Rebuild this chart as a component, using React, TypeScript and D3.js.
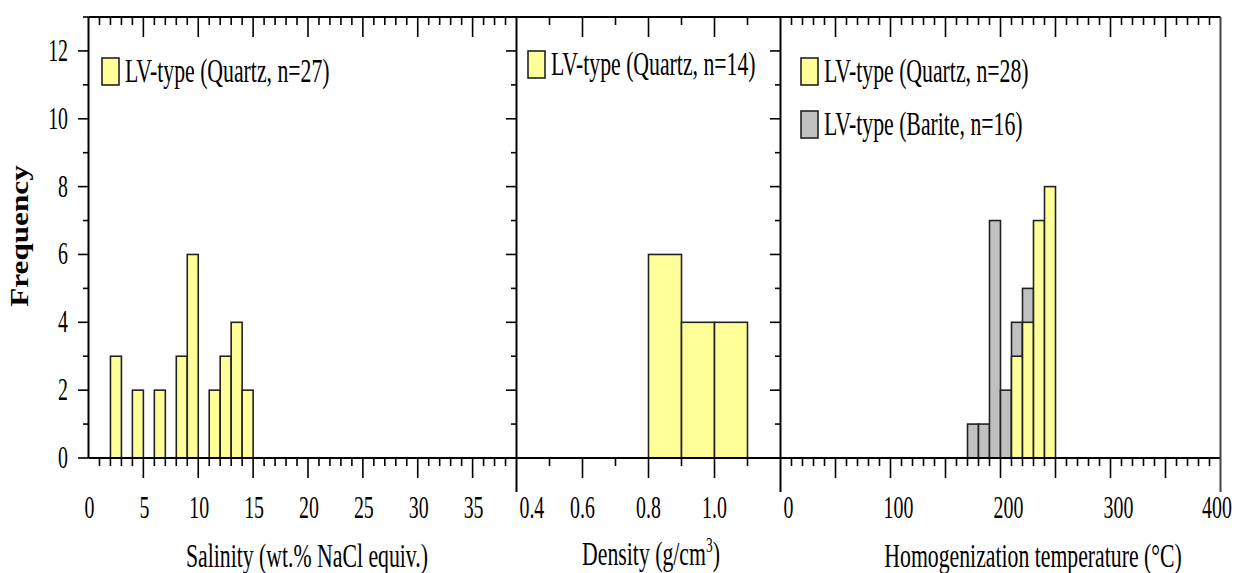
import React from "react";
import * as d3 from "d3";

// salinity histogram (bin start, wt.% NaCl equiv., width 1)
const salinityBins = [2, 4, 6, 8, 9, 11, 12, 13, 14];
const salinityCounts = [3, 2, 2, 3, 6, 2, 3, 4, 2];
// density histogram (bin start, g/cm3, width 0.1)
const densityBins = [0.8, 0.9, 1.0];
const densityCounts = [6, 4, 4];
// homogenization temperature (bin start, °C, width 10)
const thBariteBins = [170, 180, 190, 200, 210, 220];
const thBariteCounts = [1, 1, 7, 2, 4, 5];
const thQuartzBins = [210, 220, 230, 240];
const thQuartzCounts = [3, 4, 7, 8];

const yTicks = [0, 2, 4, 6, 8, 10, 12];
const salinityLabels = [0, 5, 10, 15, 20, 25, 30, 35];
const densityLabels = ["0.4", "0.6", "0.8", "1.0"];
const thLabels = [0, 100, 200, 300, 400];

const legendLeft = "LV-type (Quartz, n=27)";
const legendMid = "LV-type (Quartz, n=14)";
const legendQuartz = "LV-type (Quartz, n=28)";
const legendBarite = "LV-type (Barite, n=16)";

const YELLOW = "#ffff99";
const GREY = "#c0c0c0";
const FONT = "'Liberation Serif', 'Times New Roman', serif";
const SX = 0.64;

const top = 17;
const bottom = 458;
const y = d3.scaleLinear().domain([0, 13]).range([bottom, top]);
const x1 = d3.scaleLinear().domain([0, 39]).range([88.5, 516.5]);
const x2 = d3.scaleLinear().domain([0.4, 1.2]).range([516.5, 780.5]);
const x3 = d3.scaleLinear().domain([0, 400]).range([780.5, 1220.5]);

function ST({ x, y, size, anchor = "middle", weight = "normal", children }: any) {
  return (
    <g transform={`translate(${x},${y}) scale(${SX},1)`}>
      <text textAnchor={anchor} fontSize={size} fontFamily={FONT} fontWeight={weight} fill="#000">
        {children}
      </text>
    </g>
  );
}

function Bars({ xs, bins, counts, w, fill }: any) {
  return (
    <g>
      {bins.map((b: number, i: number) => (
        <rect key={i} x={xs(b)} y={y(counts[i])} width={xs(b + w) - xs(b)} height={bottom - y(counts[i])}
          fill={fill} stroke="#222" strokeWidth={1.6} />
      ))}
    </g>
  );
}

function XTicks({ xs, minor, major }: any) {
  return (
    <g stroke="#000" strokeWidth={1.6}>
      {minor.map((v: number, i: number) => (
        <g key={"m" + i}>
          <line x1={xs(v)} x2={xs(v)} y1={bottom} y2={bottom + 8} />
          <line x1={xs(v)} x2={xs(v)} y1={top} y2={top + 8} />
        </g>
      ))}
      {major.map((v: number, i: number) => (
        <g key={"M" + i}>
          <line x1={xs(v)} x2={xs(v)} y1={bottom} y2={bottom + 20} />
          <line x1={xs(v)} x2={xs(v)} y1={top} y2={top + 20} />
        </g>
      ))}
    </g>
  );
}

function Legend({ x, y: by, fill, label }: any) {
  return (
    <g>
      <rect x={x} y={by - 24} width={17} height={27} fill={fill} stroke="#222" strokeWidth={1.6} />
      <ST x={x + 23} y={by} size={34} anchor="start">{label}</ST>
    </g>
  );
}

export default function App() {
  const minor1 = d3.range(1, 39).filter((v) => v % 5 !== 0);
  const major1 = d3.range(5, 39, 5);
  const minor2 = [0.5, 0.7, 0.9, 1.1];
  const major2 = [0.6, 0.8, 1.0];
  const minor3 = d3.range(10, 400, 10).filter((v) => v % 50 !== 0);
  const major3 = d3.range(50, 400, 50);
  const yMinor = d3.range(1, 14, 2);

  return (
    <svg width={1236} height={573} style={{ display: "block", position: "absolute", left: 0, top: 0, background: "#fff" }}>
      {/* bars */}
      <Bars xs={x1} bins={salinityBins} counts={salinityCounts} w={1} fill={YELLOW} />
      <Bars xs={x2} bins={densityBins} counts={densityCounts} w={0.1} fill={YELLOW} />
      <Bars xs={x3} bins={thBariteBins} counts={thBariteCounts} w={10} fill={GREY} />
      <Bars xs={x3} bins={thQuartzBins} counts={thQuartzCounts} w={10} fill={YELLOW} />

      {/* frame */}
      <g stroke="#000" strokeWidth={2} fill="none">
        <line x1={88.5} x2={1220.5} y1={bottom} y2={bottom} />
        <line x1={88.5} x2={1220.5} y1={top} y2={top} />
        <line x1={88.5} x2={88.5} y1={top} y2={bottom} />
        <line x1={516.5} x2={516.5} y1={top} y2={492} />
        <line x1={780.5} x2={780.5} y1={top} y2={492} />
        <line x1={1220.5} x2={1220.5} y1={top} y2={492} stroke="#444" />
      </g>

      <XTicks xs={x1} minor={minor1} major={major1} />
      <XTicks xs={x2} minor={minor2} major={major2} />
      <XTicks xs={x3} minor={minor3} major={major3} />

      {/* y ticks: left outward, right edges of panels 1 and 2 inward */}
      <g stroke="#000" strokeWidth={1.6}>
        {yTicks.map((v) => (
          <g key={"y" + v}>
            <line x1={78} x2={88.5} y1={y(v)} y2={y(v)} />
            <line x1={506} x2={516.5} y1={y(v)} y2={y(v)} />
            <line x1={770} x2={780.5} y1={y(v)} y2={y(v)} />
          </g>
        ))}
        {yMinor.map((v) => (
          <g key={"ym" + v}>
            <line x1={83} x2={88.5} y1={y(v)} y2={y(v)} />
            <line x1={511} x2={516.5} y1={y(v)} y2={y(v)} />
            <line x1={775} x2={780.5} y1={y(v)} y2={y(v)} />
          </g>
        ))}
      </g>

      {yTicks.map((v) => (
        <ST key={"yl" + v} x={68} y={y(v) + 10} size={31} anchor="end">{v}</ST>
      ))}
      {salinityLabels.map((v) => (
        <ST key={"s" + v} x={x1(v) + 1} y={518} size={31}>{v}</ST>
      ))}
      {densityLabels.map((v, i) => (
        i === 0
          ? <ST key={"d" + v} x={x2(+v) + 3} y={518} size={31} anchor="start">{v}</ST>
          : <ST key={"d" + v} x={x2(+v)} y={518} size={31}>{v}</ST>
      ))}
      {thLabels.map((v) => (
        <ST key={"t" + v} x={Math.min(x3(v) + 8, 1217)} y={518} size={31}>{v}</ST>
      ))}

      {/* axis titles */}
      <ST x={307} y={567} size={34}>Salinity (wt.% NaCl equiv.)</ST>
      <g transform={`translate(651,565) scale(${SX},1)`}>
        <text textAnchor="middle" fontSize={34} fontFamily={FONT}>
          Density (g/cm<tspan fontSize={21} dy={-13}>3</tspan><tspan dy={13}>)</tspan>
        </text>
      </g>
      <ST x={1033} y={567} size={34}>Homogenization temperature (°C)</ST>
      <g transform="translate(28,236) rotate(-90) scale(1.2,1)">
        <text textAnchor="middle" fontSize={26} fontFamily={FONT} fontWeight="bold">Frequency</text>
      </g>

      {/* legends */}
      <Legend x={102} y={82} fill={YELLOW} label={legendLeft} />
      <Legend x={528} y={75} fill={YELLOW} label={legendMid} />
      <Legend x={801} y={82} fill={YELLOW} label={legendQuartz} />
      <Legend x={801} y={135} fill={GREY} label={legendBarite} />
    </svg>
  );
}
